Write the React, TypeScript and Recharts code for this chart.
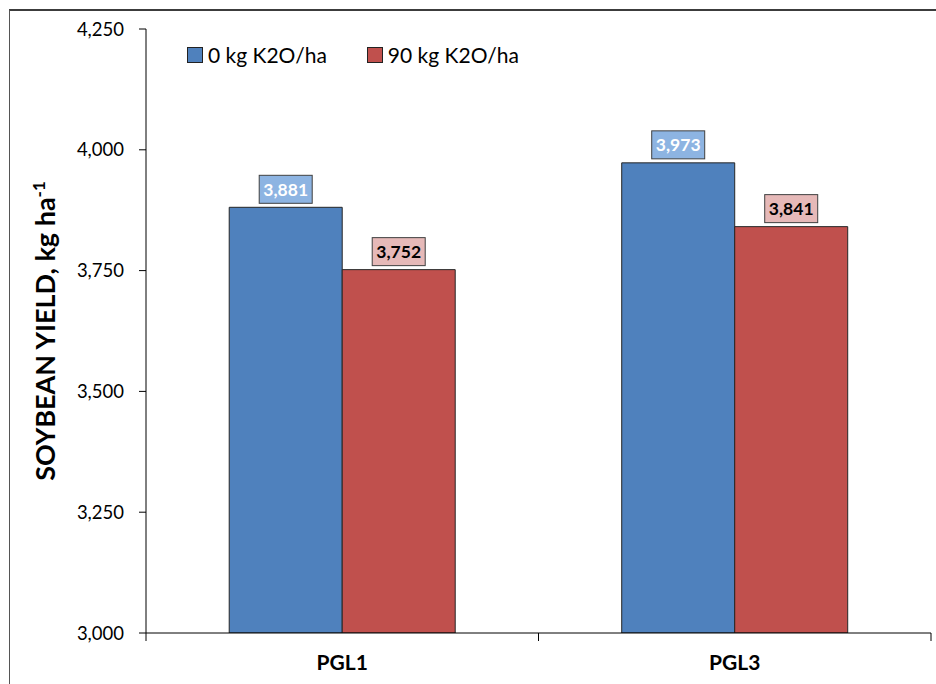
import React from 'react';
import { BarChart, Bar, XAxis, YAxis, LabelList } from 'recharts';

const CATEGORIES = ['PGL1', 'PGL3'];
const YIELD_K0 = [3881, 3973];
const YIELD_K90 = [3752, 3841];
const Y_TICKS = [3000, 3250, 3500, 3750, 4000, 4250];

const SERIES = [
  { key: 'k0', name: '0 kg K2O/ha', fill: '#4F81BD', boxFill: '#8DB4E2', textFill: '#ffffff' },
  { key: 'k90', name: '90 kg K2O/ha', fill: '#C0504D', boxFill: '#E6B9B8', textFill: '#000000' },
];

const data = CATEGORIES.map((c, i) => ({ name: c, k0: YIELD_K0[i], k90: YIELD_K90[i] }));

const W = 936;
const H = 684;
const MARGIN = { top: 29, right: 5, bottom: 0, left: 0 };
const Y_AXIS_W = 146;
const X_AXIS_H = 51;
const FONT = 'Lato, "Open Sans", sans-serif';

const fmt = (v: number) => v.toLocaleString('en-US');

// value box sitting just above each bar
const valueBox = (boxFill: string, textFill: string) => (props: any) => {
  const { x, y, width, value } = props;
  const bw = 53;
  const bh = 28;
  const cx = x + width / 2;
  return (
    <g>
      <rect x={cx - bw / 2} y={y - bh - 4} width={bw} height={bh} fill={boxFill} stroke="#404040" strokeWidth={1} />
      <text x={cx} y={y - 4 - bh / 2} dy="0.36em" textAnchor="middle" fontFamily={FONT} fontWeight={700} fontSize={17.5} fill={textFill}>
        {fmt(value)}
      </text>
    </g>
  );
};

// category label with tick marks at the band edges
const bandW = (W - Y_AXIS_W - MARGIN.left - MARGIN.right) / CATEGORIES.length;
const CategoryTick = (props: any) => {
  const { x, payload } = props;
  const top = H - X_AXIS_H;
  return (
    <g>
      <line x1={x - bandW / 2} y1={top} x2={x - bandW / 2} y2={top + 8} stroke="#000" />
      <line x1={x + bandW / 2} y1={top} x2={x + bandW / 2} y2={top + 8} stroke="#000" />
      <text x={x} y={top + 37} textAnchor="middle" fontFamily={FONT} fontWeight={700} fontSize={21} fill="#000">
        {payload.value}
      </text>
    </g>
  );
};

const YTitle = () => {
  const cy = MARGIN.top + (H - MARGIN.top - X_AXIS_H) / 2;
  return (
    <text x={0} y={0} transform={`translate(55, ${cy}) rotate(-90)`} textAnchor="middle" fontFamily={FONT} fontWeight={700} fontSize={27} fill="#000">
      SOYBEAN YIELD, kg ha
      <tspan dy={-10} fontSize={17}>-1</tspan>
    </text>
  );
};

const LegendBox = () => (
  <div style={{ position: 'absolute', left: 187, top: 42, display: 'flex', fontFamily: FONT, fontSize: 21, color: '#000', lineHeight: '26px' }}>
    {SERIES.map((s, i) => (
      <div key={s.key} style={{ display: 'flex', alignItems: 'center', marginRight: i === 0 ? 40 : 0 }}>
        <span style={{ width: 14, height: 14, background: s.fill, border: '1px solid #222', marginRight: 5, display: 'inline-block' }} />
        <span>{s.name}</span>
      </div>
    ))}
  </div>
);

export default function App() {
  return (
    <div style={{ position: 'absolute', left: 0, top: 0, width: W, height: H, overflow: 'hidden', background: '#fff' }}>
      <div style={{ position: 'absolute', left: 9, top: 9, width: 1000, height: 1000, borderTop: '2px solid #3c3c3c', borderLeft: '1px solid #555' }} />
      <div style={{ position: 'absolute', left: 0, top: 0 }}>
        <BarChart width={W} height={H} data={data} margin={MARGIN} barCategoryGap="21.2%" barGap={0}>
          <XAxis
            dataKey="name"
            height={X_AXIS_H}
            axisLine={{ stroke: '#000' }}
            tickLine={false}
            tick={<CategoryTick />}
            interval={0}
          />
          <YAxis
            width={Y_AXIS_W}
            domain={[3000, 4250]}
            ticks={Y_TICKS}
            allowDataOverflow
            tickFormatter={fmt}
            axisLine={{ stroke: '#000' }}
            tickLine={{ stroke: '#000' }}
            tickSize={7}
            tickMargin={15}
            tick={{ fontFamily: FONT, fontSize: 18.5, fill: '#000' }}
            label={<YTitle />}
          />
          {SERIES.map((s) => (
            <Bar key={s.key} dataKey={s.key} name={s.name} fill={s.fill} stroke="#262626" strokeWidth={1} isAnimationActive={false}>
              <LabelList dataKey={s.key} content={valueBox(s.boxFill, s.textFill)} />
            </Bar>
          ))}
        </BarChart>
      </div>
      <LegendBox />
    </div>
  );
}
